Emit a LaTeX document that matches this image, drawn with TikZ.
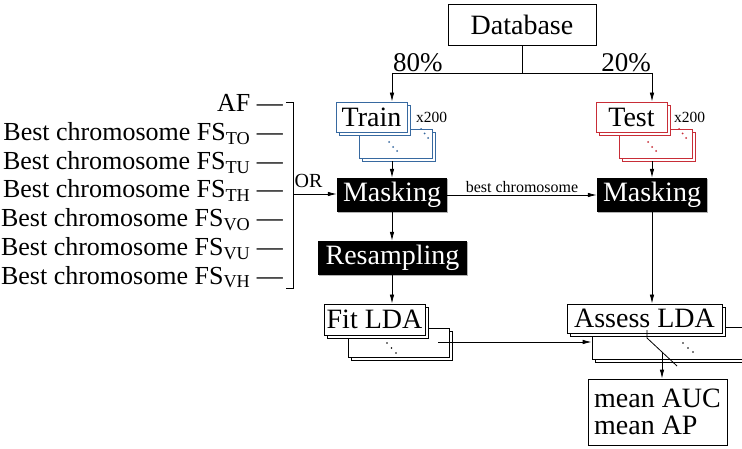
\documentclass[tikz,border=0pt]{standalone}
\usepackage{fontspec}
\setmainfont{Liberation Serif}
\usetikzlibrary{arrows.meta,shadows}
\definecolor{trainblue}{RGB}{55,105,160}
\definecolor{testred}{RGB}{200,45,55}
\begin{document}
\begin{tikzpicture}[x=1pt,y=-1pt,
  bx/.style={draw, line width=0.8pt, fill=white, inner sep=0pt, font=\fontsize{28}{30}\selectfont},
  blk/.style={fill=black, text=white, inner sep=0pt, font=\fontsize{28}{30}\selectfont,
    drop shadow={shadow xshift=1.2pt, shadow yshift=-1.2pt, fill=gray!60, opacity=1}},
  sz/.style n args={2}{minimum width=#1pt, minimum height=#2pt},
  arr/.style={-{Latex[length=9pt,width=4.5pt]}, line width=0.8pt},
  ln/.style={line width=0.8pt},
  lst/.style={anchor=base east, inner sep=0pt, font=\fontsize{26}{28}\selectfont},
  small/.style={font=\fontsize{16}{18}\selectfont, inner sep=1.5pt},
  tdot/.style={circle, fill=#1, inner sep=0pt, minimum size=2pt},
]
\useasboundingbox (0,0) rectangle (742,449);
\clip (0,0) rectangle (742,449);

% Database
\node[bx, sz={148}{41}] (db) at (522,24.5) {Database};

% Train stack
\node[bx, draw=trainblue, sz={73}{29}] (trB2) at (398.5,146.5) {};
\node[bx, draw=trainblue, sz={73}{29}] (trB1) at (395.5,143.5) {};
\node[bx, draw=trainblue, sz={71}{30}] (trF2) at (374.5,120) {};
\node[bx, draw=trainblue, sz={71}{30}] (train) at (371.5,117) {Train};
\node[tdot=trainblue] (tr1) at (421,129) {};
\node[tdot=trainblue] (tr2) at (424.5,133.5) {};
\node[tdot=trainblue] (tr3) at (428,138) {};
\node[tdot=trainblue] (tr4) at (389,142) {};
\node[tdot=trainblue] (tr5) at (393,147) {};
\node[tdot=trainblue] (tr6) at (397,151) {};
\node[anchor=west, inner sep=0pt, font=\fontsize{15.5}{17}\selectfont] (trx) at (416,117) {x200};

% Test stack
\node[bx, draw=testred, sz={73}{29}] (teB2) at (658.5,146.5) {};
\node[bx, draw=testred, sz={73}{29}] (teB1) at (655.5,143.5) {};
\node[bx, draw=testred, sz={71}{30}] (teF2) at (634.5,120) {};
\node[bx, draw=testred, sz={71}{30}] (test) at (631.5,117) {Test};
\node[tdot=testred] (te1) at (679,129) {};
\node[tdot=testred] (te2) at (682.5,133.5) {};
\node[tdot=testred] (te3) at (686,138) {};
\node[tdot=testred] (te4) at (648,142) {};
\node[tdot=testred] (te5) at (652,147) {};
\node[tdot=testred] (te6) at (656,151) {};
\node[anchor=west, inner sep=0pt, font=\fontsize{15.5}{17}\selectfont] (tex) at (674,117) {x200};

% Masking / Resampling
\node[blk, sz={110}{34}] (m1) at (392,195) {Masking};
\node[blk, sz={110}{34}] (m2) at (652,195) {Masking};
\node[blk, sz={149}{34}] (rs) at (392.5,258) {Resampling};

% Fit LDA stack
\node[bx, sz={101}{29}] (fB2) at (401.5,345.5) {};
\node[bx, sz={101}{29}] (fB1) at (398.5,342.5) {};
\node[bx, sz={101}{31}] (fF2) at (377.5,322.5) {};
\node[bx, sz={101}{31}] (fit) at (374.5,319.5) {Fit LDA};
\node[tdot=black, minimum size=1.8pt] (fd1) at (387,343) {};
\node[tdot=black, minimum size=1.8pt] (fd2) at (391.5,348) {};
\node[tdot=black, minimum size=1.8pt] (fd3) at (396,353) {};

% Assess LDA stack
\node[bx, sz={158}{32}] (aB2) at (674,346) {};
\node[bx, sz={158}{32}] (aB1) at (671,343) {};
\node[bx, sz={155}{29}] (aF2) at (647.5,321.5) {};
\node[bx, sz={155}{29}] (assess) at (644.5,318.5) {Assess LDA};
\node[tdot=black, minimum size=1.8pt] (ad1) at (683,343) {};
\node[tdot=black, minimum size=1.8pt] (ad2) at (688,348) {};
\node[tdot=black, minimum size=1.8pt] (ad3) at (693,352) {};

% mean box
\node[bx, sz={139}{66}, align=left, font=\fontsize{28}{27}\selectfont] (mean) at (657.5,412) {mean AUC\\mean AP};

% Left list
\node[lst] (l1) at (283,112) {AF —};
\node[lst] (l2) at (283,140.7) {Best chromosome FS\textsubscript{TO} —};
\node[lst] (l3) at (283,169.3) {Best chromosome FS\textsubscript{TU} —};
\node[lst] (l4) at (283,198) {Best chromosome FS\textsubscript{TH} —};
\node[lst] (l5) at (283,226.7) {Best chromosome FS\textsubscript{VO} —};
\node[lst] (l6) at (283,255.3) {Best chromosome FS\textsubscript{VU} —};
\node[lst] (l7) at (283,284) {Best chromosome FS\textsubscript{VH} —};

% bracket
\coordinate (btl) at (286,102);
\coordinate (bt) at (293,102);
\coordinate (bb) at (293,288);
\coordinate (bbl) at (286,288);
\coordinate (bor) at (293,194);
\draw[ln] (btl) -- (bt) -- (bb) -- (bbl);
\draw[arr] (bor) -- (bor -| m1.west);
\node[anchor=base west, inner sep=0pt, font=\fontsize{20}{22}\selectfont] (orl) at (294.5,188) {OR};

% split from database
\coordinate (sp) at (522,73);
\coordinate (spL) at (392,73);
\coordinate (spR) at (652,73);
\draw[ln] (db.south) -- (sp);
\draw[ln] (spL) -- (spR);
\draw[arr] (spL) -- (spL |- train.north);
\draw[arr] (spR) -- (spR |- test.north);
\node[anchor=south west, inner sep=1pt, font=\fontsize{27}{29}\selectfont] (p80) at (spL) {80\%};
\node[anchor=south east, inner sep=1pt, font=\fontsize{27}{29}\selectfont] (p20) at (spR) {20\%};

% flow
\draw[arr] (trB2.south -| m1.north) -- (m1.north);
\draw[arr] (teB2.south -| m2.north) -- (m2.north);
\draw[arr] (m1.east) -- node[above, small] {best chromosome} (m2.west);
\draw[arr] (m1.south) -- (rs.north -| m1.south);
\draw[arr] (rs.south -| m1.south) -- (fit.north -| m1.south);
\draw[arr] (m2.south) -- (assess.north -| m2.south);

\coordinate (fo) at (438,342);
\draw[arr] (fo) -- (fo -| aB1.west);

\coordinate (d1) at (647,330);
\coordinate (d2) at (647,338);
\coordinate (d3) at (677,366);
\coordinate (d4) at (662,352);
\draw[ln] (d1) -- (d2) -- (d3);
\draw[arr] (d4) -- (d4 |- mean.north);
\end{tikzpicture}
\end{document}
